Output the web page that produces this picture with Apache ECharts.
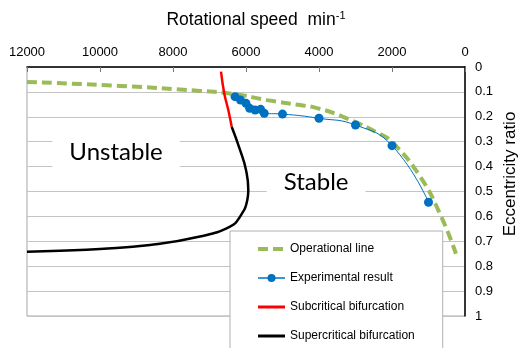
<!DOCTYPE html>
<html>
<head>
<meta charset="utf-8">
<script src="https://cdn.jsdelivr.net/npm/echarts@6/dist/echarts.min.js"></script>
<style>html,body{margin:0;padding:0;background:#fff}#c{width:524px;height:348px}</style>
</head>
<body>
<div id="c"></div>
<script>
// Operational line
const opSpeed = [12000, 9450, 7260, 6350, 5420, 4520, 4050, 3340, 2330, 1970, 1230, 685, 247];
const opEcc   = [0.060, 0.076, 0.096, 0.108, 0.133, 0.153, 0.165, 0.200, 0.269, 0.305, 0.440, 0.590, 0.750];
// Experimental result
const expSpeed = [6300, 6150, 6000, 5900, 5750, 5600, 5500, 5000, 4000, 3000, 2000, 1000];
const expEcc   = [0.119, 0.133, 0.146, 0.166, 0.173, 0.170, 0.186, 0.189, 0.206, 0.233, 0.316, 0.543];
// Subcritical bifurcation
const subSpeed = [6685, 6595, 6485, 6392];
const subEcc   = [0.019, 0.106, 0.173, 0.240];
// Supercritical bifurcation
const supSpeed = [6392, 6164, 6000, 5937, 5964, 6164, 6438, 7260, 8630, 10000, 11096, 12000];
const supEcc   = [0.240, 0.333, 0.414, 0.494, 0.534, 0.601, 0.641, 0.681, 0.715, 0.731, 0.738, 0.742];

const seriesNames = ['Operational line', 'Experimental result', 'Subcritical bifurcation', 'Supercritical bifurcation'];
const xTitle = 'Rotational speed  min';
const xTitleSup = '-1';
const yTitle = 'Eccentricity ratio';
const regionLabels = ['Unstable', 'Stable'];
const regionPos = [[9560, 0.341], [4080, 0.462]];

const zip = (a, b) => a.map((v, i) => [v, b[i]]);
const FONT = 'Liberation Sans';

const chart = echarts.init(document.getElementById('c'));
chart.setOption({
  animation: false,
  grid: { left: 27, right: 59, top: 67, bottom: 32, show: true, borderColor: '#a6a6a6', borderWidth: 1, backgroundColor: '#fff' },
  xAxis: {
    type: 'value', position: 'top', inverse: true, min: 0, max: 12000, interval: 2000,
    axisLine: { show: true, lineStyle: { color: '#000', width: 1.5 } },
    axisTick: { show: true, inside: true, length: 5, lineStyle: { color: '#777' } },
    axisLabel: { color: '#000', fontFamily: FONT, fontSize: 13, margin: 8, formatter: v => String(v) },
    splitLine: { show: false }
  },
  yAxis: {
    type: 'value', position: 'right', inverse: true, min: 0, max: 1, interval: 0.1,
    axisLine: { show: true, lineStyle: { color: '#000', width: 1.5 } },
    axisTick: { show: false },
    axisLabel: { color: '#000', fontFamily: FONT, fontSize: 13, margin: 10, formatter: v => String(+v.toFixed(1)) },
    splitLine: { show: true, lineStyle: { color: '#c4c4c4', width: 1 } }
  },
  legend: {
    orient: 'vertical', left: 230, top: 231, height: 160,
    data: [
      { name: seriesNames[0], itemStyle: { opacity: 0 }, lineStyle: { width: 4 } },
      { name: seriesNames[1], lineStyle: { width: 1.5 } },
      { name: seriesNames[2], itemStyle: { opacity: 0 }, lineStyle: { width: 3 } },
      { name: seriesNames[3], itemStyle: { opacity: 0 }, lineStyle: { width: 3 } }
    ],
    itemWidth: 27, itemHeight: 10, itemGap: 15,
    padding: [11, 28, 9, 26],
    backgroundColor: '#fff', borderColor: '#b0b0b0', borderWidth: 1,
    textStyle: { color: '#000', fontFamily: FONT, fontSize: 12, lineHeight: 14 }
  },
  series: [
    { name: seriesNames[0], type: 'line', data: zip(opSpeed, opEcc), smooth: true, showSymbol: false, symbol: 'none',
      lineStyle: { color: '#9BBB59', width: 4, type: [10, 5] }, itemStyle: { color: '#9BBB59' } },
    { name: seriesNames[1], type: 'line', data: zip(expSpeed, expEcc), smooth: true, symbol: 'circle', symbolSize: 9,
      lineStyle: { color: '#0070C0', width: 1 }, itemStyle: { color: '#0070C0' } },
    { name: seriesNames[2], type: 'line', data: zip(subSpeed, subEcc), smooth: true, showSymbol: false, symbol: 'none',
      lineStyle: { color: '#FF0000', width: 2.5 }, itemStyle: { color: '#FF0000' } },
    { name: seriesNames[3], type: 'line', data: zip(supSpeed, supEcc), smooth: true, showSymbol: false, symbol: 'none',
      lineStyle: { color: '#000', width: 2.5 }, itemStyle: { color: '#000' } }
  ]
});

const labelEls = regionLabels.map((t, i) => {
  const p = chart.convertToPixel({ gridIndex: 0 }, regionPos[i]);
  return { type: 'text', x: p[0], y: p[1], z: 5,
    style: { text: t, fontFamily: 'Lato', fontSize: 24, fill: '#000', align: 'center', verticalAlign: 'middle',
      backgroundColor: '#fff', padding: [3, 17, 3, 17] } };
});
chart.setOption({
  graphic: labelEls.concat([
    { type: 'text', x: 256, y: 20, style: { text: '{a|' + xTitle + '}{b|' + xTitleSup + '}', align: 'center', verticalAlign: 'middle',
      rich: { a: { fontFamily: FONT, fontSize: 17.5, fill: '#000' }, b: { fontFamily: FONT, fontSize: 11, fill: '#000', padding: [0, 0, 9, 0] } } } },
    { type: 'text', x: 510, y: 174, rotation: Math.PI / 2,
      style: { text: yTitle, fontFamily: FONT, fontSize: 17, fill: '#000', align: 'center', verticalAlign: 'middle' } }
  ])
});
</script>
</body>
</html>
